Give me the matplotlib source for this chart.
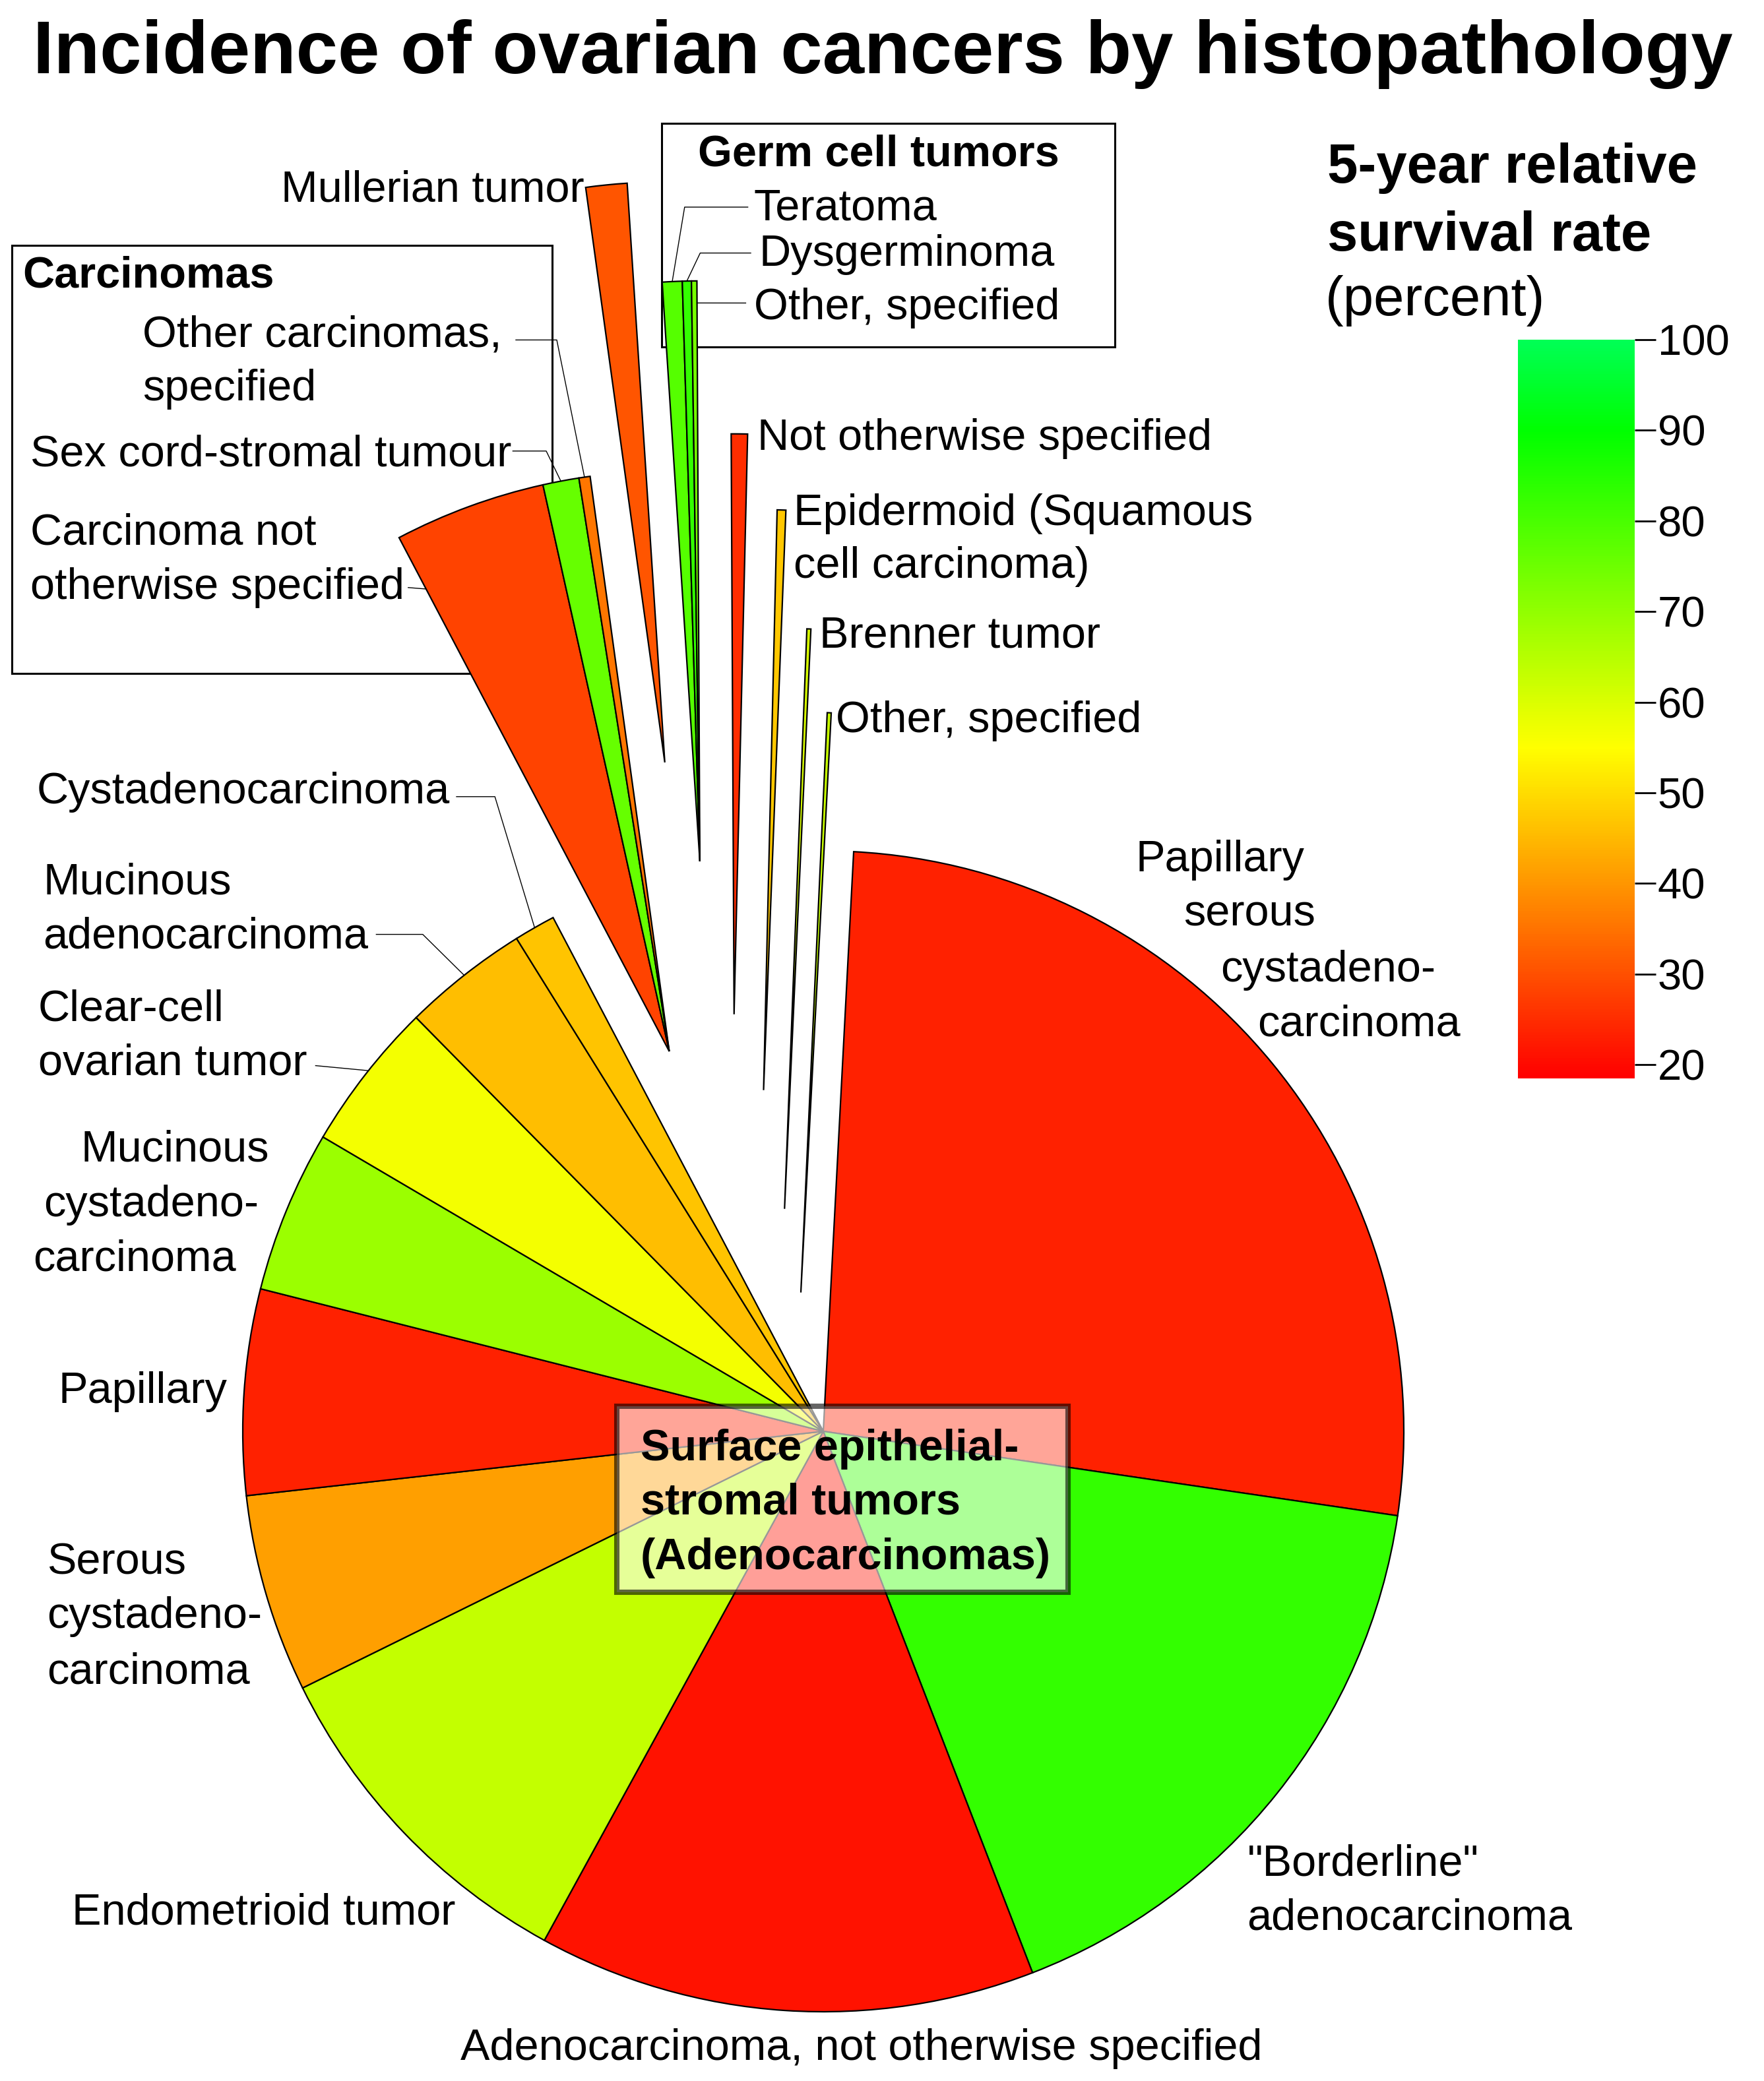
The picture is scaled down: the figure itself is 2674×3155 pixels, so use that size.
import numpy as np
import matplotlib.pyplot as plt
from matplotlib.colors import LinearSegmentedColormap, Normalize
from matplotlib.cm import ScalarMappable
from matplotlib.patches import Rectangle

plt.rcParams['font.family'] = ['Liberation Sans', 'DejaVu Sans']

# Histopathology types, in pie order (clockwise from 12 o'clock)
categories = [
    "Papillary serous cystadenocarcinoma", '"Borderline" adenocarcinoma',
    "Adenocarcinoma, not otherwise specified", "Endometrioid tumor",
    "Serous cystadenocarcinoma", "Papillary", "Mucinous cystadenocarcinoma",
    "Clear-cell ovarian tumor", "Mucinous adenocarcinoma", "Cystadenocarcinoma",
    "Carcinoma not otherwise specified", "Sex cord-stromal tumour",
    "Other carcinomas, specified", "Mullerian tumor",
    "Teratoma", "Dysgerminoma", "Other, specified (germ cell)",
    "Not otherwise specified", "Epidermoid (Squamous cell carcinoma)",
    "Brenner tumor", "Other, specified",
]
# share of cases (percent)
incidence = [26.4, 16.75, 13.8, 9.7, 5.5, 5.7, 4.5, 4.15, 3.5, 1.15,
             4.2, 1.0, 0.31, 1.14, 0.55, 0.25, 0.15, 0.45, 0.24, 0.11, 0.11]
# 5-year relative survival (percent)
survival = [23.5, 83.0, 21.2, 63.1, 41.4, 23.5, 68.6, 56.4, 45.7, 46.6,
            28.2, 76.0, 35.5, 30.7, 78.3, 83.0, 73.7, 25.1, 47.1, 60.4, 62.5]
cbar_ticks = [20, 30, 40, 50, 60, 70, 80, 90, 100]

# ---- layout (units = half pixels of the output, y measured from top) ----
W, H = 1337, 1577.5
Y = lambda y: H - y

fig = plt.figure(figsize=(W / 100, H / 100), dpi=200)
ax = fig.add_axes([0, 0, 1, 1])

vmin, vmax = 18.5, 100
cmap = LinearSegmentedColormap.from_list('survival', [
    (0.0, '#ff0000'),
    ((55 - vmin) / (vmax - vmin), '#ffff00'),
    ((90 - vmin) / (vmax - vmin), '#00ff00'),
    (1.0, '#00ff55')])
norm = Normalize(vmin, vmax)

cx, cy, R = 624, Y(1085), 440
wedges, _ = ax.pie(incidence, colors=cmap(norm(survival)), startangle=87.0,
                   counterclock=False, radius=R, center=(cx, cy), frame=True,
                   wedgeprops=dict(edgecolor='black', linewidth=0.8))

# pull the small groups out of the pie: the point at 0.6 R on each group's
# bisector is moved to these spots
groups = [[10, 11, 12], [13], [14, 15, 16], [17], [18], [19], [20]]
anchors = [(426.6, 545.6), (477.3, 315.3), (521.2, 389.1), (558.8, 504.9),
           (586.9, 562.5), (605.7, 652.6), (619.9, 716.1)]
rf_anchor = 0.6
for idx, (tx, ty) in zip(groups, anchors):
    t1 = min(wedges[i].theta1 for i in idx)
    t2 = max(wedges[i].theta2 for i in idx)
    tm = np.radians((t1 + t2) / 2)
    dx = tx - (cx + rf_anchor * R * np.cos(tm))
    dy = Y(ty) - (cy + rf_anchor * R * np.sin(tm))
    for i in idx:
        wedges[i].set_center((cx + dx, cy + dy))


def wedge_pt(w, f=0.5, rf=1.0):
    a = np.radians(w.theta1 + f * (w.theta2 - w.theta1))
    x0, y0 = w.center
    return x0 + w.r * rf * np.cos(a), y0 + w.r * rf * np.sin(a)


# leader lines: wedge, angle fraction, radius fraction, label-side points
leaders = [
    (12, 0.5, 1.0, [(391, 257.7), (422, 257.7)]),
    (11, 0.5, 1.0, [(388.7, 341.9), (414, 341.9)]),
    (10, 1.0, 0.9, [(309.4, 445.4)]),
    (14, 0.5, 1.0, [(566.8, 157.0), (518.9, 157.0)]),
    (15, 0.5, 1.0, [(569.0, 191.8), (530.7, 191.8)]),
    (16, 0.0, 0.962, [(565.2, 229.7)]),
    (9, 0.5, 1.0, [(346.0, 603.9), (375.1, 603.9)]),
    (8, 0.5, 1.0, [(285.2, 708.3), (320.4, 708.3)]),
    (7, 0.47, 1.0, [(239.2, 807.8)]),
]
for i, f, rf, pts in leaders:
    xs = [p[0] for p in pts]
    ys = [Y(p[1]) for p in pts]
    ex, ey = wedge_pt(wedges[i], f, rf)
    ax.plot(xs + [ex], ys + [ey], color='black', lw=0.5, zorder=3)

# group boxes
ax.add_patch(Rectangle((8.8, Y(510.3)), 409.7, 324.5, fill=False,
                       edgecolor='black', lw=1.1, zorder=0.5))
ax.add_patch(Rectangle((501.4, Y(262.8)), 343.4, 169.2, fill=False,
                       edgecolor='black', lw=1.1, zorder=0.5))
ax.add_patch(Rectangle((467.7, Y(1207)), 342, 141, facecolor=(1, 1, 1, 0.6),
                       edgecolor=(0, 0, 0, 0.6), lw=2.9, zorder=4))

FS = 24
labels = [
    ("Mullerian tumor", 443, 152.5, 'right'),
    ("Teratoma", 571.2, 166.8, 'left'),
    ("Dysgerminoma", 575.4, 201.6, 'left'),
    ("Other, specified", 571.6, 241.8, 'left'),
    ("Not otherwise specified", 573.8, 340.9, 'left'),
    ("Epidermoid (Squamous", 601.5, 398.0, 'left'),
    ("cell carcinoma)", 601.5, 438.2, 'left'),
    ("Brenner tumor", 621.0, 490.9, 'left'),
    ("Other, specified", 633.7, 555.2, 'left'),
    ("Other carcinomas,", 108, 263.0, 'left'),
    ("specified", 108, 303.3, 'left'),
    ("Sex cord-stromal tumour", 22.8, 353.1, 'left'),
    ("Carcinoma not", 22.8, 412.7, 'left'),
    ("otherwise specified", 22.8, 454.0, 'left'),
    ("Cystadenocarcinoma", 28, 609.2, 'left'),
    ("Mucinous", 32.6, 677.5, 'left'),
    ("adenocarcinoma", 32.6, 718.5, 'left'),
    ("Clear-cell", 29, 773.8, 'left'),
    ("ovarian tumor", 29, 814.5, 'left'),
    ("Mucinous", 61.3, 880.4, 'left'),
    ("cystadeno-", 33.2, 921.8, 'left'),
    ("carcinoma", 24.9, 963.3, 'left'),
    ("Papillary", 44.2, 1063.3, 'left'),
    ("Serous", 35.7, 1193.4, 'left'),
    ("cystadeno-", 35.7, 1233.9, 'left'),
    ("carcinoma", 35.7, 1276.2, 'left'),
    ("Endometrioid tumor", 54.5, 1458.5, 'left'),
    ("Adenocarcinoma, not otherwise specified", 349, 1561.6, 'left'),
    ('"Borderline"', 945.3, 1421.7, 'left'),
    ("adenocarcinoma", 945.3, 1463.0, 'left'),
    ("Papillary", 860.7, 660.7, 'left'),
    ("serous", 897.0, 701.6, 'left'),
    ("cystadeno-", 925.0, 744.0, 'left'),
    ("carcinoma", 952.9, 785.3, 'left'),
]
for s, x, y, ha in labels:
    ax.text(x, Y(y), s, fontsize=FS, ha=ha, va='baseline', zorder=5)

bold_labels = [
    ("Carcinomas", 17, 218.0, 'left'),
    ("Germ cell tumors", 666, 125.7, 'center'),
    ("Surface epithelial-", 485.4, 1106.8, 'left'),
    ("stromal tumors", 485.4, 1148.0, 'left'),
    ("(Adenocarcinomas)", 485.4, 1189.7, 'left'),
]
for s, x, y, ha in bold_labels:
    ax.text(x, Y(y), s, fontsize=FS, weight='bold', ha=ha, va='baseline',
            zorder=5)

ax.text(669, Y(55.5), "Incidence of ovarian cancers by histopathology",
        fontsize=41, weight='bold', ha='center', va='baseline')

ax.text(1006, Y(138.4), "5-year relative", fontsize=30, weight='bold',
        va='baseline')
ax.text(1006, Y(190), "survival rate", fontsize=30, weight='bold',
        va='baseline')
ax.text(1004.5, Y(238.8), "(percent)", fontsize=30, va='baseline')

ax.set_xlim(0, W)
ax.set_ylim(0, H)
ax.set_aspect('equal')
ax.axis('off')

# colour scale
cax = fig.add_axes([1150.5 / W, Y(817.4) / H, 88.3 / W, (817.4 - 257.5) / H])
cb = fig.colorbar(ScalarMappable(norm=norm, cmap=cmap), cax=cax,
                  ticks=cbar_ticks)
cb.outline.set_visible(False)
cax.tick_params(length=11.6, width=1.0, labelsize=23.5, pad=1)

fig.savefig('out.png', dpi=200)
